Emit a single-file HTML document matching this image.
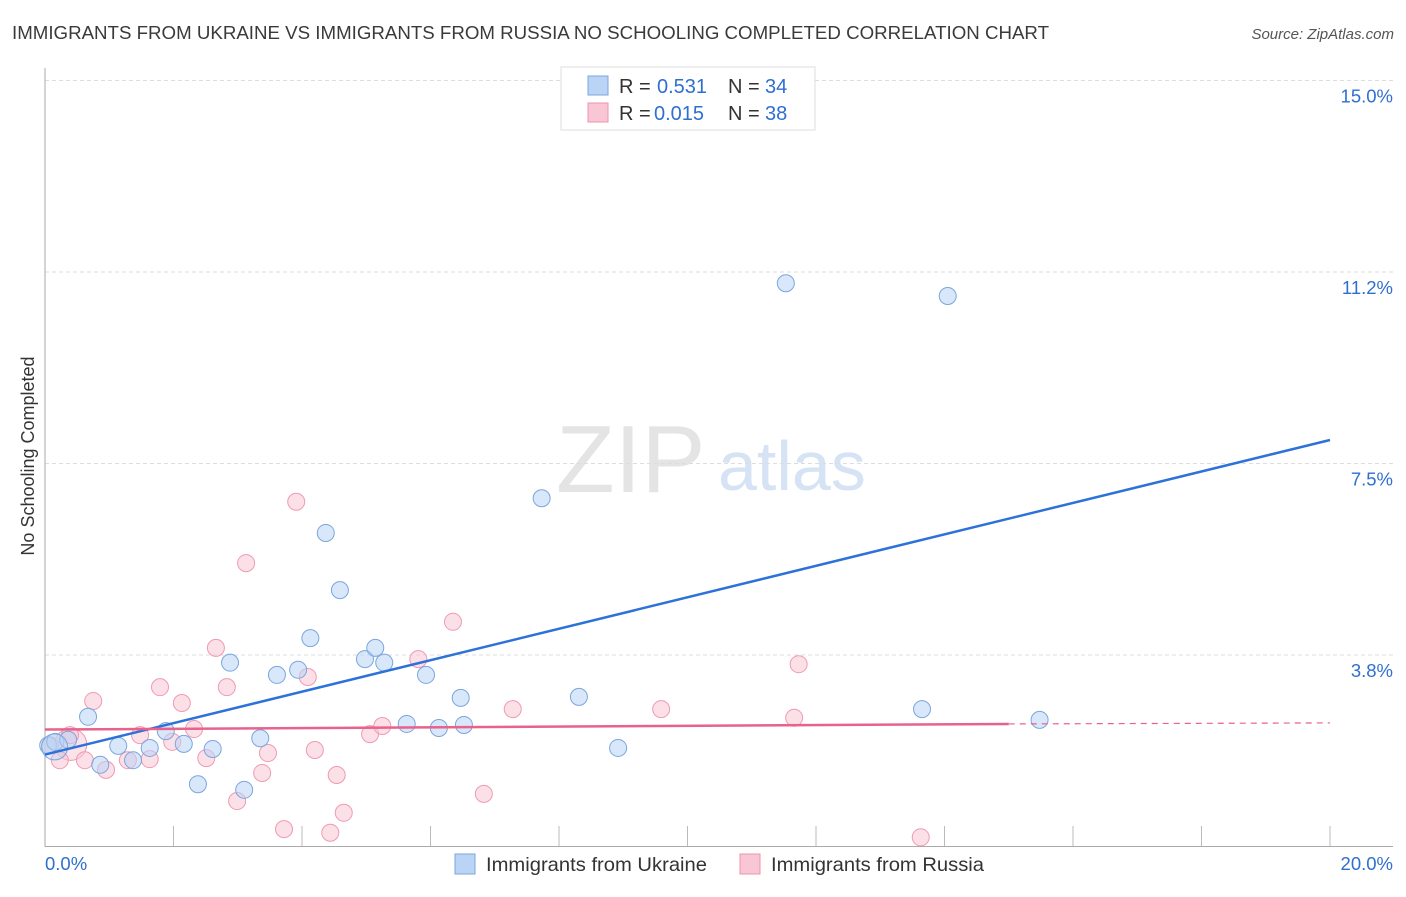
<!DOCTYPE html>
<html><head><meta charset="utf-8"><style>
body{margin:0;background:#fff;font-family:"Liberation Sans",sans-serif;}
svg text{font-family:"Liberation Sans",sans-serif;}
</style></head><body>
<svg id="c" width="1406" height="892">
<text x="12" y="39" font-size="18" fill="#3a3a3a" textLength="1037" lengthAdjust="spacingAndGlyphs">IMMIGRANTS FROM UKRAINE VS IMMIGRANTS FROM RUSSIA NO SCHOOLING COMPLETED CORRELATION CHART</text>
<text x="1394" y="39" font-size="15" fill="#555" text-anchor="end" font-style="italic">Source: ZipAtlas.com</text>
<text x="34" y="456" font-size="18" fill="#333" text-anchor="middle" transform="rotate(-90 34 456)">No Schooling Completed</text>
<text x="556" y="492" font-size="96" fill="#e4e4e4" font-family="Liberation Serif">ZIP</text>
<text x="718" y="490" font-size="70" fill="#d5e3f5">atlas</text>
<g id="grid"></g><g id="axes"></g><g id="marks"></g>
<g>
<rect x="561" y="67" width="254" height="63" fill="#fff" stroke="#ddd"/>
<rect x="588" y="76" width="20" height="19" fill="#b9d4f5" stroke="#7aa6dd"/>
<rect x="588" y="103" width="20" height="19" fill="#f9c6d5" stroke="#ef93ad"/>
<text x="619" y="93" font-size="20" fill="#333">R =</text>
<text x="657" y="93" font-size="20" fill="#2f6fd0">0.531</text>
<text x="728" y="93" font-size="20" fill="#333">N =</text>
<text x="765" y="93" font-size="20" fill="#2f6fd0">34</text>
<text x="619" y="120" font-size="20" fill="#333">R =</text>
<text x="654" y="120" font-size="20" fill="#2f6fd0">0.015</text>
<text x="728" y="120" font-size="20" fill="#333">N =</text>
<text x="765" y="120" font-size="20" fill="#2f6fd0">38</text>
</g>
<g>
<rect x="455" y="854" width="20" height="20" fill="#b9d4f5" stroke="#7aa6dd"/>
<text x="486" y="871" font-size="19.5" fill="#333" textLength="221" lengthAdjust="spacingAndGlyphs">Immigrants from Ukraine</text>
<rect x="740" y="854" width="20" height="20" fill="#f9c6d5" stroke="#ef93ad"/>
<text x="771" y="871" font-size="19.5" fill="#333" textLength="213" lengthAdjust="spacingAndGlyphs">Immigrants from Russia</text>
</g>
</svg>
<script>
const yTicks=[15.0,11.25,7.5,3.75];
const yTickLabels=["15.0%","11.2%","7.5%","3.8%"];
const xEndLabels=["0.0%","20.0%"];
const ukX=[0.05,0.16,0.36,0.67,0.86,1.14,1.37,1.63,1.88,2.16,2.38,2.61,2.88,3.10,3.35,3.61,3.94,4.13,4.37,4.59,4.98,5.14,5.28,5.63,5.93,6.13,6.47,6.52,7.73,8.31,8.92,11.53,13.65,14.05,15.48];
const ukY=[1.98,2.05,2.09,2.54,1.60,1.97,1.69,1.93,2.26,2.01,1.22,1.91,3.60,1.11,2.12,3.36,3.46,4.08,6.14,5.02,3.67,3.89,3.60,2.40,3.36,2.32,2.91,2.38,6.82,2.93,1.93,11.03,2.69,10.78,2.48];
const ruX=[0.08,0.23,0.39,0.62,0.75,0.95,1.29,1.48,1.63,1.79,1.98,2.13,2.32,2.51,2.66,2.83,2.99,3.13,3.38,3.47,3.72,3.91,4.09,4.20,4.44,4.54,4.65,5.06,5.25,5.81,6.35,6.83,7.28,9.59,11.66,11.73,13.63];
const ruY=[1.98,1.69,2.18,1.69,2.85,1.50,1.69,2.18,1.71,3.12,2.05,2.81,2.30,1.73,3.89,3.12,0.89,5.55,1.44,1.83,0.34,6.75,3.32,1.89,0.27,1.40,0.66,2.20,2.36,3.67,4.40,1.03,2.69,2.69,2.52,3.57,0.18];
const ukTrend=[1.80,7.96];
const ruTrend=[2.29,2.40,2.42];
const NS="http://www.w3.org/2000/svg";
const X=v=>45+v/20*1285, Y=v=>846.5-v/3.75*191.5;
function mk(p,t,a){const e=document.createElementNS(NS,t);for(const k in a)e.setAttribute(k,a[k]);document.getElementById(p).appendChild(e);return e;}
yTicks.forEach((t,i)=>{
 const g=mk('grid','line',{x1:45,x2:1393,y1:Y(t),y2:Y(t),stroke:'#ddd','stroke-dasharray':'4,3'});
 
 
 const l=mk('grid','text',{x:1393,y:Y(t)+22,'font-size':18.5,fill:'#2f6fd0','text-anchor':'end'});
 l.textContent=yTickLabels[i];
 
 
});
const ax=mk('axes','line',{x1:45,x2:45,y1:68,y2:847,stroke:'#aaa'});


const bx=mk('axes','line',{x1:45,x2:1393,y1:846.5,y2:846.5,stroke:'#aaa'});


for(let v=2;v<=20;v+=2){const t=mk('axes','line',{x1:X(v),x2:X(v),y1:826,y2:846,stroke:'#bbb'});
 
 }
[[0,'start',45],[20,'end',1393]].forEach((d,i)=>{const t=mk('axes','text',{x:d[2],y:870,'font-size':18.5,fill:'#2f6fd0','text-anchor':d[1]});t.textContent=xEndLabels[i];
 
 });
const big1=mk('marks','circle',{cx:X(0.4),cy:Y(2.0),r:16,fill:'rgba(249,198,213,0.5)',stroke:'#ef93ad'});


ruX.forEach((v,i)=>{const c=mk('marks','circle',{cx:X(v),cy:Y(ruY[i]),r:8.5,fill:'rgba(249,198,213,0.55)',stroke:'#ef9ab3'});
 
 });
ukX.forEach((v,i)=>{const c=mk('marks','circle',{cx:X(v),cy:Y(ukY[i]),r:8.5,fill:'rgba(185,212,245,0.55)',stroke:'#7aa6dd'});
 
 });
const big2=mk('marks','circle',{cx:X(0.15),cy:Y(1.95),r:13,fill:'rgba(185,212,245,0.4)',stroke:'#7aa6dd'});


const ul=mk('marks','line',{x1:X(0),y1:Y(ukTrend[0]),x2:X(20),y2:Y(ukTrend[1]),stroke:'#2d72d9','stroke-width':2.5});


const rl=mk('marks','line',{x1:X(0),y1:Y(ruTrend[0]),x2:X(15),y2:Y(ruTrend[1]),stroke:'#e8628c','stroke-width':2.5});


const rd=mk('marks','line',{x1:X(15),y1:Y(ruTrend[1]),x2:X(20),y2:Y(ruTrend[2]),stroke:'#e8628c','stroke-width':1.2,'stroke-dasharray':'6,5'});


</script>
</body></html>
